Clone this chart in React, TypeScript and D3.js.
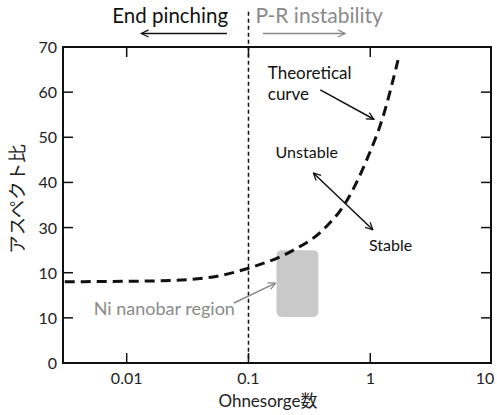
import React, { useEffect, useRef } from 'react';
import * as d3 from 'd3';

// theoretical curve (Ohnesorge number vs aspect ratio)
const curveOh = [0.0031, 0.0192, 0.0492, 0.1, 0.234, 0.41, 0.643, 0.935, 1.27, 1.69];
const curveAspect = [18, 18.2, 19, 21, 25, 29.5, 36, 45, 54.5, 67.1];

// Ni nanobar region box
const regionOh = [0.17, 0.375];
const regionAspect = [10.2, 25];

const xTicks = [0.01, 0.1, 1, 10];
const xTickLabels = ['0.01', '0.1', '1', '10'];
const yTicks = [0, 10, 20, 30, 40, 50, 60, 70];
const yTickLabels = ['0', '10', '10', '30', '40', '50', '60', '70'];

const FONT = 'Lato, "Noto Sans", sans-serif';
const CJK = '"Noto Sans CJK JP", sans-serif';

const App = () => {
  const svgRef = useRef<SVGSVGElement>(null);

  useEffect(() => {
    const svg = d3.select(svgRef.current);
    svg.selectAll('*').remove();

    const left = 63, right = 491, top = 47, bottom = 363;

    const x = d3.scaleLog().domain([0.003, 9.8]).range([left, right]);
    const y = d3.scaleLinear().domain([0, 70]).range([bottom, top]);

    const defs = svg.append('defs');
    const marker = (id: string, color: string) => {
      defs.append('marker')
        .attr('id', id)
        .attr('viewBox', '0 0 10 10')
        .attr('refX', 9).attr('refY', 5)
        .attr('markerWidth', 9).attr('markerHeight', 9)
        .attr('markerUnits', 'userSpaceOnUse')
        .attr('orient', 'auto-start-reverse')
        .append('path')
        .attr('d', 'M1,1 L9,5 L1,9')
        .attr('fill', 'none')
        .attr('stroke', color)
        .attr('stroke-width', 1.4);
    };
    marker('ab', '#111');
    marker('ag', '#888');

    // gray region
    svg.append('rect')
      .attr('x', x(regionOh[0]))
      .attr('y', y(regionAspect[1]))
      .attr('width', x(regionOh[1]) - x(regionOh[0]))
      .attr('height', y(regionAspect[0]) - y(regionAspect[1]))
      .attr('rx', 5)
      .attr('fill', '#c9c9c9');

    // vertical dashed line at Oh = 0.1
    svg.append('line')
      .attr('x1', x(0.1)).attr('x2', x(0.1))
      .attr('y1', y(77.8)).attr('y2', y(0))
      .attr('stroke', '#111')
      .attr('stroke-width', 1.5)
      .attr('stroke-dasharray', '4,3');

    // theoretical curve
    const pts = curveOh.map((o, i) => [o, curveAspect[i]] as [number, number]);
    const line = d3.line<[number, number]>()
      .x(d => x(d[0]))
      .y(d => y(d[1]))
      .curve(d3.curveMonotoneX);
    svg.append('path')
      .datum(pts)
      .attr('fill', 'none')
      .attr('stroke', '#111')
      .attr('stroke-width', 3)
      .attr('stroke-dasharray', '10,6')
      .attr('d', line);

    // frame
    svg.append('rect')
      .attr('x', left).attr('y', top)
      .attr('width', right - left).attr('height', bottom - top)
      .attr('fill', 'none')
      .attr('stroke', '#111')
      .attr('stroke-width', 2);

    // inward ticks
    const tl = 10;
    xTicks.filter(t => x(t) < right - 2).forEach(t => {
      svg.append('line').attr('x1', x(t)).attr('x2', x(t))
        .attr('y1', bottom).attr('y2', bottom - tl)
        .attr('stroke', '#111').attr('stroke-width', 1.5);
      svg.append('line').attr('x1', x(t)).attr('x2', x(t))
        .attr('y1', top).attr('y2', top + tl)
        .attr('stroke', '#111').attr('stroke-width', 1.5);
    });
    yTicks.slice(1, -1).forEach(t => {
      svg.append('line').attr('x1', left).attr('x2', left + tl)
        .attr('y1', y(t)).attr('y2', y(t))
        .attr('stroke', '#111').attr('stroke-width', 1.5);
      svg.append('line').attr('x1', right).attr('x2', right - tl)
        .attr('y1', y(t)).attr('y2', y(t))
        .attr('stroke', '#111').attr('stroke-width', 1.5);
    });

    // tick labels
    xTicks.forEach((t, i) => {
      svg.append('text')
        .attr('x', Math.min(x(t), 485)).attr('y', 384)
        .attr('text-anchor', 'middle')
        .attr('font-family', FONT).attr('font-size', 16)
        .attr('fill', '#222')
        .text(xTickLabels[i]);
    });
    yTicks.forEach((t, i) => {
      svg.append('text')
        .attr('x', 57).attr('y', y(t) + 6)
        .attr('text-anchor', 'end')
        .attr('font-family', FONT).attr('font-size', 16)
        .attr('fill', '#222')
        .text(yTickLabels[i]);
    });

    // axis titles
    const xt = svg.append('text')
      .attr('x', 268).attr('y', 407)
      .attr('text-anchor', 'middle')
      .attr('font-size', 17)
      .attr('fill', '#222');
    xt.append('tspan').attr('font-family', FONT).text('Ohnesorge');
    xt.append('tspan').attr('font-family', CJK).text('数');

    svg.append('text')
      .attr('transform', 'translate(24,199) rotate(-90)')
      .attr('text-anchor', 'middle')
      .attr('font-family', CJK).attr('font-size', 18.5)
      .attr('fill', '#222')
      .text('アスペクト比');

    // top annotations
    svg.append('text')
      .attr('x', x(0.068)).attr('y', y(75.3))
      .attr('text-anchor', 'end')
      .attr('font-family', FONT).attr('font-size', 20.5)
      .attr('fill', '#111')
      .text('End pinching');
    svg.append('text')
      .attr('x', x(0.114)).attr('y', y(75.3))
      .attr('font-family', FONT).attr('font-size', 21)
      .attr('fill', '#8a8a8a')
      .text('P-R instability');

    const arrow = (o1: number, a1: number, o2: number, a2: number, color: string, id: string, both = false) => {
      const l = svg.append('line')
        .attr('x1', x(o1)).attr('y1', y(a1))
        .attr('x2', x(o2)).attr('y2', y(a2))
        .attr('stroke', color).attr('stroke-width', 1.5)
        .attr('marker-end', `url(#${id})`);
      if (both) l.attr('marker-start', `url(#${id})`);
    };
    arrow(0.0666, 73, 0.0132, 73, '#111', 'ab');
    arrow(0.131, 73, 0.622, 73, '#888', 'ag');

    // in-plot annotations
    const label = (txt: string, o: number, a: number, size: number) => {
      svg.append('text')
        .attr('x', x(o)).attr('y', y(a))
        .attr('font-family', FONT).attr('font-size', size)
        .attr('fill', '#111')
        .text(txt);
    };
    label('Theoretical', 0.144, 62.9, 17);
    label('curve', 0.144, 58.2, 17);
    label('Unstable', 0.167, 45.4, 16);
    label('Stable', 0.977, 24.8, 16);
    svg.append('text')
      .attr('x', x(0.00536)).attr('y', y(10.6))
      .attr('font-family', FONT).attr('font-size', 18)
      .attr('fill', '#8a8a8a')
      .text('Ni nanobar region');

    arrow(0.389, 60.5, 1.07, 54, '#111', 'ab');
    arrow(0.341, 42.1, 1.05, 29.5, '#111', 'ab', true);
    arrow(0.0758, 13.3, 0.167, 17.7, '#888', 'ag');
  }, []);

  return <svg ref={svgRef} width={497} height={415} style={{ position: 'absolute', left: 0, top: 0, background: '#fff' }} />;
};

export default App;
